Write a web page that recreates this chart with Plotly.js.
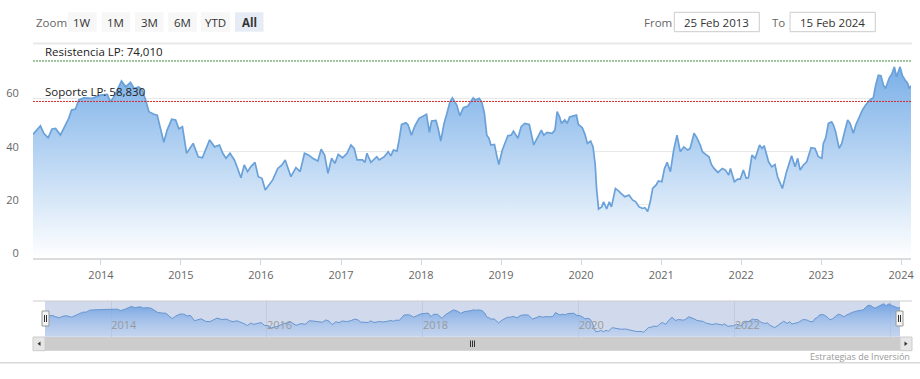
<!DOCTYPE html>
<html>
<head>
<meta charset="utf-8">
<script src="https://cdn.plot.ly/plotly-3.0.1.min.js"></script>
<style>
html,body{margin:0;padding:0;background:#fff;}
#chart{width:920px;height:379px;}
</style>
</head>
<body>
<div id="chart"></div>
<script>
// ---- Data ----
const dates = [
"2013-02-25","2013-03-31","2013-04-15","2013-05-05","2013-05-23","2013-06-08","2013-06-30","2013-07-20","2013-08-07","2013-08-20",
"2013-09-07","2013-09-22","2013-10-15","2013-11-22","2013-12-30","2014-01-30","2014-02-14","2014-03-06","2014-03-21","2014-04-05",
"2014-04-24","2014-05-16","2014-06-01","2014-06-23","2014-07-08","2014-07-24","2014-08-08","2014-08-31","2014-09-15","2014-09-30",
"2014-10-15","2014-10-30","2014-11-20","2014-12-08","2014-12-23","2015-01-08","2015-01-27","2015-02-26","2015-03-21","2015-04-09",
"2015-05-12","2015-06-04","2015-06-26","2015-07-11","2015-07-26","2015-08-13","2015-09-02","2015-09-17","2015-10-02","2015-10-17",
"2015-11-01","2015-11-16","2015-12-05","2015-12-20","2016-01-06","2016-01-21","2016-02-08","2016-02-24","2016-03-18","2016-04-06",
"2016-04-21","2016-05-17","2016-06-09","2016-06-28","2016-07-18","2016-08-07","2016-08-25","2016-09-17","2016-10-02","2016-10-18",
"2016-11-02","2016-11-19","2016-12-04","2016-12-19","2017-01-08","2017-01-28","2017-02-15","2017-03-02","2017-03-15","2017-04-09",
"2017-04-20","2017-04-29","2017-05-17","2017-06-13","2017-06-24","2017-07-17","2017-08-04","2017-08-16","2017-08-28","2017-09-13",
"2017-09-23","2017-10-04","2017-10-24","2017-11-03","2017-11-18","2017-12-04","2017-12-23","2018-01-13","2018-01-26","2018-02-08",
"2018-02-18","2018-03-10","2018-03-20","2018-04-01","2018-04-16","2018-04-28","2018-05-13","2018-05-24","2018-06-13","2018-06-27",
"2018-07-13","2018-08-03","2018-08-15","2018-08-27","2018-09-05","2018-09-23","2018-10-05","2018-10-17","2018-10-28","2018-11-07",
"2018-11-16","2018-12-02","2018-12-12","2018-12-22","2019-01-07","2019-01-19","2019-02-01","2019-02-16","2019-02-27","2019-03-19",
"2019-04-03","2019-04-19","2019-05-10","2019-05-30","2019-06-19","2019-07-04","2019-07-15","2019-07-30","2019-08-22","2019-09-04",
"2019-09-14","2019-09-25","2019-10-04","2019-10-19","2019-10-30","2019-11-10","2019-12-11","2019-12-20","2020-01-07","2020-01-19",
"2020-01-30","2020-02-14","2020-02-25","2020-03-06","2020-03-12","2020-03-21","2020-04-05","2020-04-13","2020-04-27","2020-05-09",
"2020-05-19","2020-06-06","2020-06-24","2020-06-30","2020-07-19","2020-08-07","2020-08-23","2020-09-07","2020-09-22","2020-10-08",
"2020-10-19","2020-10-31","2020-11-12","2020-11-23","2020-12-09","2020-12-19","2021-01-04","2021-01-16","2021-01-28","2021-02-12",
"2021-02-27","2021-03-14","2021-03-29","2021-04-14","2021-05-02","2021-05-13","2021-05-31","2021-06-13","2021-06-28","2021-07-08",
"2021-07-23","2021-08-07","2021-08-18","2021-08-30","2021-09-17","2021-10-07","2021-10-21","2021-11-05","2021-11-13","2021-12-01",
"2021-12-16","2021-12-28","2022-01-11","2022-01-24","2022-02-03","2022-02-19","2022-03-06","2022-03-26","2022-04-06","2022-04-16",
"2022-05-06","2022-05-21","2022-06-04","2022-06-16","2022-07-08","2022-07-27","2022-08-19","2022-09-04","2022-09-16","2022-09-27",
"2022-10-12","2022-10-27","2022-11-16","2022-12-04","2022-12-19","2023-01-04","2023-01-11","2023-01-22","2023-02-03","2023-02-18",
"2023-02-26","2023-03-08","2023-03-24","2023-04-05","2023-04-20","2023-05-02","2023-05-13","2023-05-28","2023-06-08","2023-06-23",
"2023-07-08","2023-07-23","2023-08-12","2023-08-27","2023-09-07","2023-09-19","2023-10-01","2023-10-12","2023-10-22","2023-11-07",
"2023-11-19","2023-12-01","2023-12-11","2023-12-27","2024-01-07","2024-01-19","2024-01-31","2024-02-06","2024-02-15"
];
const prices = [
46.5,49.7,46.9,45.2,48.5,48.7,46.2,49.3,52.5,55.6,
56.0,59.4,60.2,60.0,61.2,61.5,58.7,61.2,63.7,66.5,
64.3,66.0,63.7,64.3,63.1,59.4,55.0,54.0,53.7,48.1,
43.5,48.1,52.2,51.9,48.5,49.4,39.4,43.1,38.1,37.7,
44.4,41.8,42.5,39.4,37.5,39.4,36.9,33.7,30.2,35.0,
32.5,34.3,36.0,30.6,30.0,25.6,27.5,29.4,33.7,35.0,
36.9,30.6,34.0,32.5,39.4,38.7,37.5,36.5,40.9,38.7,
31.9,37.5,35.6,39.0,37.7,39.4,42.5,41.2,36.9,36.9,
36.0,39.4,36.0,38.1,36.9,38.1,40.0,38.4,40.6,40.2,
44.4,50.2,50.8,50.0,46.2,49.7,52.5,53.5,54.0,47.2,
51.5,51.7,48.7,44.0,50.6,54.0,58.7,60.2,57.5,53.5,
56.5,57.1,58.7,60.2,59.4,60.0,58.7,54.4,46.2,45.0,
42.5,42.7,38.7,35.2,40.6,43.1,46.0,46.2,47.7,45.0,
49.4,50.6,50.2,42.5,45.6,48.1,46.2,47.2,46.9,48.1,
55.0,53.1,50.6,51.9,50.6,53.0,53.7,50.2,49.0,46.5,
43.1,44.0,41.8,35.0,26.2,18.5,19.3,21.2,18.5,21.2,
19.3,26.2,25.0,24.4,23.1,23.7,21.9,21.2,19.3,18.7,
19.0,17.5,21.2,26.2,27.5,29.0,28.7,33.7,36.0,32.5,
40.6,46.2,40.0,41.8,40.6,41.2,46.9,45.2,42.5,40.0,
39.0,38.1,35.2,33.7,32.2,33.7,33.1,31.2,33.7,28.7,
29.7,29.7,33.1,30.0,30.2,38.7,37.5,42.5,41.2,42.2,
36.2,34.3,35.2,30.6,26.2,32.5,38.5,34.3,37.5,33.1,
35.0,36.2,41.5,41.2,38.1,37.5,43.1,45.2,50.6,51.2,
50.0,47.5,41.2,43.1,48.1,51.9,50.6,46.9,50.0,53.1,
55.6,57.5,59.4,60.2,65.0,68.7,68.5,65.0,63.7,67.5,
69.0,71.8,68.1,71.8,68.5,66.9,65.6,63.7,64.7
];
const resistance = 74.010;
const support = 58.830;
const resistanceLabel = "Resistencia LP: ";
const supportLabel = "Soporte LP: ";
const yTicks = [0, 20, 40, 60];
const xTickYears = ["2014","2015","2016","2017","2018","2019","2020","2021","2022","2023","2024"];
const navTickYears = ["2014","2016","2018","2020","2022","2024"];
const navTickText = ["2014","2016","2018","2020","2022","2\u2026"];
const zoomButtons = ["1W","1M","3M","6M","YTD","All"];
const fromDate = "25 Feb 2013";
const toDate = "15 Feb 2024";
const credits = "Estrategias de Inversión";

// ---- helpers: pixel -> paper ----
const W = 920, H = 379;
const px = x => x / W;
const py = y => 1 - y / H;
const FONT = "Open Sans, Noto Sans, sans-serif";
const fmt = v => v.toFixed(3).replace('.', ',');

const xStart = dates[0], xEnd = dates[dates.length - 1];

const traces = [
  {
    x: dates, y: prices, type: 'scatter', mode: 'lines',
    xaxis: 'x', yaxis: 'y',
    line: {color: '#6aa1d8', width: 1.7},
    fill: 'tozeroy',
    fillgradient: {type: 'vertical', start: 0, stop: 74,
      colorscale: [[0, 'rgba(255,255,255,1)'], [1, 'rgb(118,173,231)']]},
    hoverinfo: 'skip'
  },
  {
    x: dates, y: prices, type: 'scatter', mode: 'lines',
    xaxis: 'x2', yaxis: 'y2',
    line: {color: '#6795cf', width: 1},
    fill: 'tozeroy',
    fillgradient: {type: 'vertical', start: 9, stop: 72,
      colorscale: [[0, 'rgba(170,200,240,0.35)'], [1, 'rgba(110,160,225,0.95)']]},
    hoverinfo: 'skip'
  }
];

const shapes = [];
const annotations = [];

// top separator
shapes.push({type:'line', xref:'paper', yref:'paper', x0:px(33), x1:px(912), y0:py(43.5), y1:py(43.5), line:{color:'#e8e8e8', width:2}});
// bottom separator
shapes.push({type:'line', xref:'paper', yref:'paper', x0:0, x1:1, y0:py(362.7), y1:py(362.7), line:{color:'#d9d9d9', width:1.5}});

// support / resistance lines
shapes.push({type:'line', xref:'x domain', yref:'y', x0:0, x1:1, y0:resistance, y1:resistance, line:{color:'#3f8a3f', width:1, dash:'2px,1px'}});
shapes.push({type:'line', xref:'x domain', yref:'y', x0:0, x1:1, y0:support, y1:support, line:{color:'#d42a2a', width:1, dash:'2px,1px'}});
annotations.push({xref:'x domain', yref:'y', x:10/878, y:resistance, xanchor:'left', yanchor:'bottom', yshift:0, showarrow:false,
  text: resistanceLabel + fmt(resistance), font:{family:FONT, size:11.5, color:'#222'}});
annotations.push({xref:'x domain', yref:'y', x:10/878, y:support, xanchor:'left', yanchor:'bottom', yshift:0, showarrow:false,
  text: supportLabel + fmt(support), font:{family:FONT, size:11.5, color:'#222'}});

// range selector
annotations.push({xref:'paper', yref:'paper', x:px(34), y:py(22), xanchor:'left', yanchor:'middle', showarrow:false,
  text:'Zoom', font:{family:FONT, size:11.5, color:'#666'}});
const btnX = [67.7, 101.7, 135, 168.3, 201, 235];
const btnW = [29, 28.5, 28.5, 28.5, 29, 28.5];
zoomButtons.forEach((b, i) => {
  const sel = b === 'All';
  shapes.push({type:'rect', xref:'paper', yref:'paper', x0:px(btnX[i]), x1:px(btnX[i] + btnW[i]), y0:py(31.7), y1:py(12.3),
    fillcolor: sel ? '#e6ebf5' : '#f7f7f7', line:{width:0}});
  annotations.push({xref:'paper', yref:'paper', x:px(btnX[i] + btnW[i] / 2), y:py(22), xanchor:'center', yanchor:'middle', showarrow:false,
    text: sel ? '<b>' + b + '</b>' : b, font:{family:FONT, size:11.5, color:'#333'}});
});
// date inputs
annotations.push({xref:'paper', yref:'paper', x:px(641.5), y:py(22), xanchor:'left', yanchor:'middle', showarrow:false,
  text:'From', font:{family:FONT, size:11.5, color:'#666'}});
shapes.push({type:'rect', xref:'paper', yref:'paper', x0:px(674.3), x1:px(759.3), y0:py(31.7), y1:py(12.3), fillcolor:'#fff', line:{color:'#cccccc', width:1}});
annotations.push({xref:'paper', yref:'paper', x:px(716.8), y:py(22), xanchor:'center', yanchor:'middle', showarrow:false,
  text: fromDate, font:{family:FONT, size:11.5, color:'#333'}});
annotations.push({xref:'paper', yref:'paper', x:px(770), y:py(22), xanchor:'left', yanchor:'middle', showarrow:false,
  text:'To', font:{family:FONT, size:11.5, color:'#666'}});
shapes.push({type:'rect', xref:'paper', yref:'paper', x0:px(790), x1:px(875.3), y0:py(31.7), y1:py(12.3), fillcolor:'#fff', line:{color:'#cccccc', width:1}});
annotations.push({xref:'paper', yref:'paper', x:px(832.7), y:py(22), xanchor:'center', yanchor:'middle', showarrow:false,
  text: toDate, font:{family:FONT, size:11.5, color:'#333'}});

// navigator background (selected mask)
shapes.push({type:'rect', xref:'x2 domain', yref:'y2 domain', x0:0, x1:1, y0:0, y1:1, fillcolor:'rgba(102,133,194,0.3)', line:{width:0}, layer:'below'});
// navigator outline top
shapes.push({type:'line', xref:'paper', yref:'paper', x0:px(33), x1:px(912), y0:py(301), y1:py(301), line:{color:'#cccccc', width:1}});
// handles
[45.5, 899.5].forEach(hx => {
  shapes.push({type:'rect', xref:'paper', yref:'paper', x0:px(hx - 3.5), x1:px(hx + 3.5), y0:py(326), y1:py(311), fillcolor:'#f2f2f2', line:{color:'#999999', width:1}});
  shapes.push({type:'line', xref:'paper', yref:'paper', x0:px(hx - 1), x1:px(hx - 1), y0:py(322), y1:py(315), line:{color:'#333', width:1}});
  shapes.push({type:'line', xref:'paper', yref:'paper', x0:px(hx + 1), x1:px(hx + 1), y0:py(322), y1:py(315), line:{color:'#333', width:1}});
});
// scrollbar
shapes.push({type:'rect', xref:'paper', yref:'paper', x0:px(33), x1:px(912), y0:py(350.7), y1:py(337), fillcolor:'#f2f2f2', line:{width:0}});
shapes.push({type:'rect', xref:'paper', yref:'paper', x0:px(45), x1:px(900), y0:py(350.7), y1:py(337), fillcolor:'#cccccc', line:{width:0}});
shapes.push({type:'rect', xref:'paper', yref:'paper', x0:px(33), x1:px(45), y0:py(350.7), y1:py(337), fillcolor:'#e6e6e6', line:{color:'#cccccc', width:1}});
shapes.push({type:'rect', xref:'paper', yref:'paper', x0:px(900), x1:px(912), y0:py(350.7), y1:py(337), fillcolor:'#e6e6e6', line:{color:'#cccccc', width:1}});
shapes.push({type:'path', xref:'paper', yref:'paper',
  path:`M ${px(40.5)} ${py(341.5)} L ${px(37.5)} ${py(343.8)} L ${px(40.5)} ${py(346.1)} Z`, fillcolor:'#333', line:{width:0}});
shapes.push({type:'path', xref:'paper', yref:'paper',
  path:`M ${px(904.5)} ${py(341.5)} L ${px(907.5)} ${py(343.8)} L ${px(904.5)} ${py(346.1)} Z`, fillcolor:'#333', line:{width:0}});
[470.5, 472.5, 474.5].forEach(gx => {
  shapes.push({type:'line', xref:'paper', yref:'paper', x0:px(gx), x1:px(gx), y0:py(347), y1:py(340.5), line:{color:'#333', width:1}});
});
// credits
annotations.push({xref:'paper', yref:'paper', x:px(912), y:py(356.5), xanchor:'right', yanchor:'middle', showarrow:false,
  text: credits, font:{family:FONT, size:9, color:'#999'}});

const layout = {
  width: W, height: H,
  margin: {l:0, r:0, t:0, b:0},
  paper_bgcolor: '#fff', plot_bgcolor: 'rgba(0,0,0,0)',
  showlegend: false,
  hovermode: false,
  font: {family: FONT},
  xaxis: {
    domain: [px(33), px(911)], anchor: 'y', type: 'date', range: [xStart, xEnd],
    tickmode: 'array', tickvals: xTickYears.map(y => y + '-01-01'), ticktext: xTickYears,
    ticks: 'outside', ticklen: 5, tickcolor: '#ccd6eb', tickwidth: 1,
    showgrid: false, showline: true, linecolor: '#dcdcdc', linewidth: 2, zeroline: false,
    tickfont: {family: FONT, size: 11, color: '#666'}, fixedrange: true
  },
  yaxis: {
    domain: [py(258.3), py(45)], anchor: 'x', range: [0, 80],
    tickmode: 'array', tickvals: yTicks, ticktext: yTicks.map(String),
    showgrid: true, gridcolor: '#e9e9e9', gridwidth: 1, zeroline: false, showline: false,
    ticks: 'outside', ticklen: 11, tickcolor: 'rgba(0,0,0,0)', ticklabelshift: -5,
    tickfont: {family: FONT, size: 11, color: '#666'}, fixedrange: true
  },
  xaxis2: {
    domain: [px(45), px(900)], anchor: 'y2', type: 'date', range: [xStart, xEnd],
    tickmode: 'array', tickvals: navTickYears.map(y => y + '-01-01'), ticktext: navTickText,
    ticks: '', showgrid: true, gridcolor: '#c3cbdd', gridwidth: 1,
    ticklabelposition: 'inside right', showline: false, zeroline: false,
    tickfont: {family: FONT, size: 11, color: '#9a9a9a'}, fixedrange: true
  },
  yaxis2: {
    domain: [py(336.7), py(301)], anchor: 'x2', range: [9, 77],
    showgrid: false, showticklabels: false, zeroline: false, showline: false, ticks: '', fixedrange: true
  },
  shapes: shapes,
  annotations: annotations
};

Plotly.newPlot('chart', traces, layout, {displayModeBar: false, staticPlot: true});
</script>
</body>
</html>
